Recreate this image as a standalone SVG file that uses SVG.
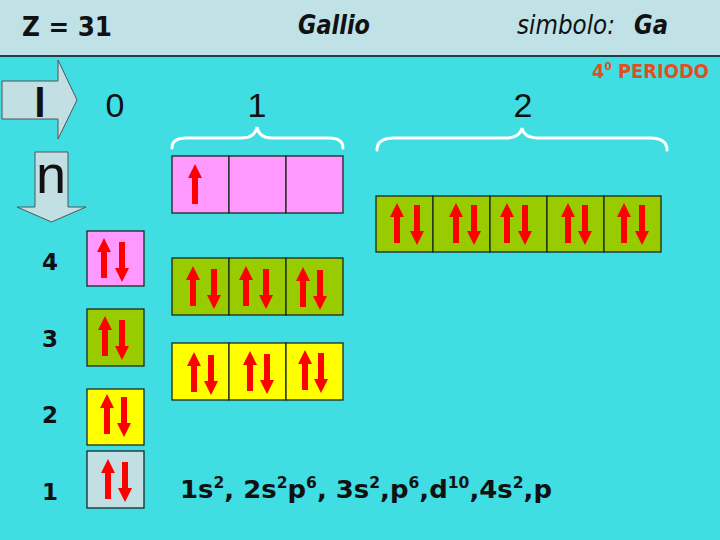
<svg xmlns="http://www.w3.org/2000/svg" xmlns:xlink="http://www.w3.org/1999/xlink" width="720" height="540" viewBox="0 0 720 540">
<style>
.hdr{font-family:"DejaVu Sans","Liberation Sans",sans-serif;fill:#111;}
.big{font-family:"Liberation Sans",Arial,sans-serif;fill:#111;}
.num{font-family:"DejaVu Sans","Liberation Sans",sans-serif;font-weight:bold;font-size:23px;fill:#111;text-anchor:middle;}
.cell{stroke:#1a2a20;stroke-width:1.3;}
.pink{fill:#FF99FF;}
.green{fill:#99CC00;}
.yellow{fill:#FFFF00;}
.gray{fill:#C2DFE3;}
.brace{fill:none;stroke:#FFFFFF;stroke-width:3;stroke-linecap:round;}
.qarrow{fill:#C2DFE3;stroke:#555;stroke-width:1;}
</style>
<defs>
<path id="up" d="M0,0 L7,14 L3,14 L3,40 L-3,40 L-3,14 L-7,14 Z" fill="#FF0000"/>
<path id="dn" d="M0,0 L7,-14 L3,-14 L3,-40 L-3,-40 L-3,-14 L-7,-14 Z" fill="#FF0000"/>
</defs>
<rect x="0" y="0" width="720" height="540" fill="#40DDE3"/>
<g id="header">
<rect x="0" y="0" width="720" height="56" fill="#C0E1E6"/>
<line x1="0" y1="56" x2="720" y2="56" stroke="#1E3C44" stroke-width="2"/>
<text class="hdr" x="22" y="36" font-size="26" font-weight="bold" textLength="90" lengthAdjust="spacingAndGlyphs">Z = 31</text>
<text class="hdr" x="298" y="34" font-size="26" font-weight="bold" font-style="italic" textLength="72" lengthAdjust="spacingAndGlyphs">Gallio</text>
<text class="hdr" x="517" y="34" font-size="26" font-style="italic" textLength="98" lengthAdjust="spacingAndGlyphs">simbolo:</text>
<text class="hdr" x="634" y="34" font-size="26" font-weight="bold" font-style="italic" textLength="34" lengthAdjust="spacingAndGlyphs">Ga</text>
</g>
<g id="periodo">
<text x="592" y="78" font-family="DejaVu Sans, Liberation Sans, sans-serif" font-size="19" font-weight="bold" fill="#E0501E" textLength="117" lengthAdjust="spacingAndGlyphs">4<tspan font-size="11" dy="-8">0</tspan><tspan dy="8"> PERIODO</tspan></text>
</g>
<g id="arrow-l">
<path class="qarrow" d="M2,81 L58,81 L58,60 L77,100 L58,139 L58,119 L2,119 Z"/>
<text class="big" x="40" y="117" font-size="41" font-weight="bold" text-anchor="middle">l</text>
</g>
<g id="arrow-n">
<path class="qarrow" d="M35,152 L68,152 L68,207 L86,207 L51.5,222 L17,207 L35,207 Z"/>
<text class="big" x="51" y="193" font-size="54" text-anchor="middle">n</text>
</g>
<g id="l-labels">
<text class="big" x="115" y="117" font-size="34" text-anchor="middle">0</text>
<text class="big" x="257" y="117" font-size="34" text-anchor="middle">1</text>
<text class="big" x="523" y="117" font-size="34" text-anchor="middle">2</text>
</g>
<g id="braces">
<path class="brace" d="M172,148 Q172,138 186,138 L242,138 Q255,138 257,127 Q259,138 272,138 L329,138 Q343,138 343,148"/>
<path class="brace" d="M377,150 Q377,138 394,138 L505,138 Q520,138 522,128 Q524,138 539,138 L650,138 Q667,138 667,150"/>
</g>
<g id="n-labels">
<text class="num" x="50" y="270">4</text>
<text class="num" x="50" y="347">3</text>
<text class="num" x="50" y="423">2</text>
<text class="num" x="50" y="500">1</text>
</g>
<g id="orb-4p">
<rect class="cell pink" x="172" y="156" width="57" height="57"/>
<rect class="cell pink" x="229" y="156" width="57" height="57"/>
<rect class="cell pink" x="286" y="156" width="57" height="57"/>
<use xlink:href="#up" href="#up" x="195" y="164"/>
</g>
<g id="orb-3d">
<rect class="cell green" x="376" y="196" width="57" height="56"/>
<rect class="cell green" x="433" y="196" width="57" height="56"/>
<rect class="cell green" x="490" y="196" width="57" height="56"/>
<rect class="cell green" x="547" y="196" width="57" height="56"/>
<rect class="cell green" x="604" y="196" width="57" height="56"/>
<use href="#up" x="397" y="203"/><use href="#dn" x="417" y="245"/>
<use href="#up" x="456" y="203"/><use href="#dn" x="474" y="245"/>
<use href="#up" x="507" y="203"/><use href="#dn" x="525" y="245"/>
<use href="#up" x="568" y="203"/><use href="#dn" x="585" y="245"/>
<use href="#up" x="624" y="203"/><use href="#dn" x="642" y="245"/>
</g>
<g id="orb-4s">
<rect class="cell pink" x="87" y="231" width="57" height="55"/>
<use href="#up" x="104" y="238"/><use href="#dn" x="122" y="282"/>
</g>
<g id="orb-3p">
<rect class="cell green" x="172" y="258" width="57" height="57"/>
<rect class="cell green" x="229" y="258" width="57" height="57"/>
<rect class="cell green" x="286" y="258" width="57" height="57"/>
<use href="#up" x="193" y="266"/><use href="#dn" x="214" y="309"/>
<use href="#up" x="246" y="266"/><use href="#dn" x="266" y="309"/>
<use href="#up" x="303" y="267"/><use href="#dn" x="320" y="310"/>
</g>
<g id="orb-3s">
<rect class="cell green" x="87" y="309" width="57" height="57"/>
<use href="#up" x="105" y="316"/><use href="#dn" x="122" y="360"/>
</g>
<g id="orb-2p">
<rect class="cell yellow" x="172" y="343" width="57" height="57"/>
<rect class="cell yellow" x="229" y="343" width="57" height="57"/>
<rect class="cell yellow" x="286" y="343" width="57" height="57"/>
<use href="#up" x="194" y="352"/><use href="#dn" x="211" y="395"/>
<use href="#up" x="250" y="351"/><use href="#dn" x="267" y="394"/>
<use href="#up" x="305" y="350"/><use href="#dn" x="321" y="393"/>
</g>
<g id="orb-2s">
<rect class="cell yellow" x="87" y="389" width="57" height="56"/>
<use href="#up" x="107" y="394"/><use href="#dn" x="124" y="437"/>
</g>
<g id="orb-1s">
<rect class="cell gray" x="87" y="451" width="57" height="57"/>
<use href="#up" x="108" y="459"/><use href="#dn" x="125" y="502"/>
</g>
<g id="config">
<text x="180" y="498" font-family="DejaVu Sans, Liberation Sans, sans-serif" font-size="25" font-weight="bold" fill="#111" textLength="372" lengthAdjust="spacingAndGlyphs">1s<tspan font-size="15" dy="-10">2</tspan><tspan dy="10">, 2s</tspan><tspan font-size="15" dy="-10">2</tspan><tspan dy="10">p</tspan><tspan font-size="15" dy="-10">6</tspan><tspan dy="10">, 3s</tspan><tspan font-size="15" dy="-10">2</tspan><tspan dy="10">,p</tspan><tspan font-size="15" dy="-10">6</tspan><tspan dy="10">,d</tspan><tspan font-size="15" dy="-10">10</tspan><tspan dy="10">,4s</tspan><tspan font-size="15" dy="-10">2</tspan><tspan dy="10">,p</tspan></text>
</g>
</svg>
